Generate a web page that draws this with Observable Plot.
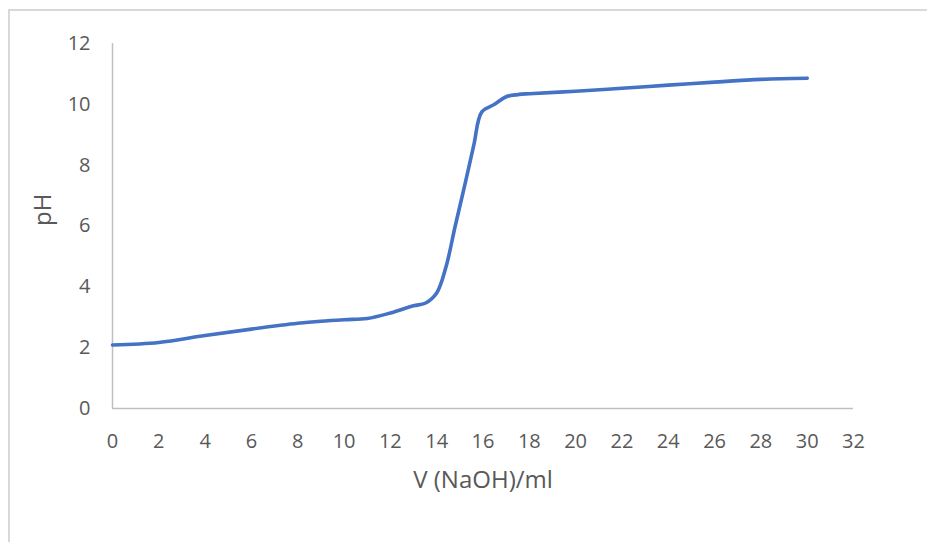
<!DOCTYPE html>
<html>
<head>
<meta charset="utf-8">
<script src="https://cdn.jsdelivr.net/npm/d3@7"></script>
<script src="https://cdn.jsdelivr.net/npm/@observablehq/plot@0.6"></script>
<style>
  html, body { margin: 0; padding: 0; background: #fff; }
  #wrap { position: relative; width: 927px; height: 542px; overflow: hidden; }
  #frame {
    position: absolute; left: 8px; top: 9px; width: 1200px; height: 1200px;
    border-left: 2px solid #d9d9d9; border-top: 2px solid #d9d9d9;
    pointer-events: none;
  }
  svg { display: block; }
</style>
</head>
<body>
<div id="wrap"><div id="frame"></div></div>
<script>
// Titration of an acid with NaOH: pH against added volume (ml)
const volume = [0, 2, 4, 6, 8, 9, 10, 11, 12, 13, 13.5, 14, 14.4, 14.8, 15.2, 15.6, 15.95, 16.5, 17, 17.5, 18, 20, 22, 24, 26, 28, 30];
const pH     = [2.09, 2.17, 2.40, 2.61, 2.80, 2.87, 2.92, 2.96, 3.14, 3.38, 3.46, 3.80, 4.65, 6.0, 7.3, 8.65, 9.75, 10.0, 10.25, 10.32, 10.35, 10.43, 10.53, 10.63, 10.73, 10.82, 10.86];
const xTicks = d3.range(0, 33, 2);
const yTicks = d3.range(0, 13, 2);
const xTitle = "V (NaOH)/ml";
const yTitle = "pH";

const data = volume.map((v, i) => ({v, pH: pH[i]}));

const axisColor = "#bfbfbf";
const textColor = "#595959";
const font = "'Open Sans', sans-serif";

const chart = Plot.plot({
  width: 927,
  height: 542,
  marginLeft: 112,
  marginRight: 74,
  marginTop: 43,
  marginBottom: 134,
  style: {fontFamily: font, fontSize: "20px", color: textColor, background: "transparent"},
  x: {domain: [0, 32], ticks: xTicks, tickSize: 0, tickPadding: 25, label: null},
  y: {domain: [0, 12], ticks: yTicks, tickSize: 0, tickPadding: 22, label: null},
  marks: [
    Plot.axisX({ticks: xTicks, tickSize: 0, tickPadding: 25, fontSize: 20, fill: textColor, label: null}),
    Plot.axisY({ticks: yTicks, tickSize: 0, tickPadding: 22, fontSize: 20, fill: textColor, label: null}),
    Plot.ruleY([0], {stroke: axisColor, strokeWidth: 1.5}),
    Plot.ruleX([0], {stroke: axisColor, strokeWidth: 1.5}),
    Plot.line(data, {x: "v", y: "pH", stroke: "#4472c4", strokeWidth: 3.6, curve: "catmull-rom", strokeLinecap: "round", strokeLinejoin: "round"}),
    Plot.text([xTitle], {frameAnchor: "bottom", dy: 72, fontSize: 24, fill: textColor, lineAnchor: "middle"}),
    Plot.text([yTitle], {frameAnchor: "left", dx: -69, rotate: -90, fontSize: 24, fill: textColor, lineAnchor: "middle"})
  ]
});

document.getElementById("wrap").prepend(chart);
</script>
</body>
</html>
